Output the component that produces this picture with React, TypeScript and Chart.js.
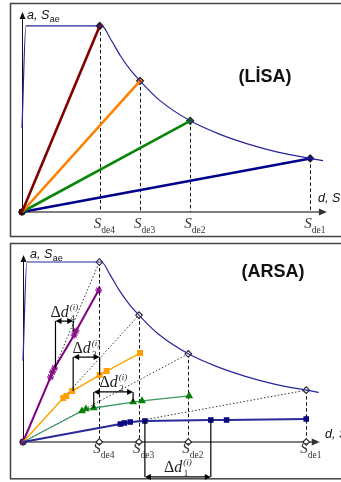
import React, { useEffect, useRef } from 'react';
import { Chart, registerables } from 'chart.js';

Chart.register(...registerables);

// ---------- data ----------
// Demand spectrum (ADRS): spectral displacement vs spectral acceleration
const SPEC_D = [0, 0.4, 8.1, 9, 10, 11, 12.0, 14, 17.1, 20, 23, 26, 29.3, 30.6];
const SPEC_A = [0.452, 1.0, 1.0, 0.93, 0.84, 0.765, 0.705, 0.6, 0.49, 0.42, 0.365, 0.322, 0.288, 0.276];

// Spectral displacement demands Sde4..Sde1 and the matching accelerations
const SDE = [7.9, 12.0, 17.1, 29.3];
const SAE = [1.0, 0.705, 0.49, 0.288];
const SDE_LABELS = ['de4', 'de3', 'de2', 'de1'];

// ARSA capacity curves (mode 4, 3, 2, 1)
const CAP4_D = [0, 2.85, 3.05, 3.26, 5.29, 5.49, 7.83];
const CAP4_A = [0, 0.361, 0.389, 0.411, 0.594, 0.617, 0.844];
const CAP3_D = [0, 4.17, 4.48, 5.09, 7.93, 8.65, 12.11];
const CAP3_A = [0, 0.244, 0.256, 0.283, 0.372, 0.394, 0.494];
const CAP2_D = [0, 6.1, 6.51, 7.32, 11.39, 12.31, 17.19];
const CAP2_A = [0, 0.172, 0.183, 0.189, 0.222, 0.228, 0.256];
const CAP1_D = [0, 10.07, 10.48, 11.09, 12.61, 19.43, 21.06, 29.3];
const CAP1_A = [0, 0.1, 0.106, 0.111, 0.117, 0.122, 0.122, 0.128];

// Δd annotations (mode labels, left/right displacement, leg ends, arrow level)
const DD_LABELS = ['4', '3', '2', '1'];
const DD_X1 = [3.36, 5.19, 7.32, 12.61];
const DD_X2 = [5.19, 7.93, 11.39, 19.43];
const DD_Y1 = [0.411, 0.283, 0.189, 0.117];
const DD_Y2 = [0.61, 0.372, 0.222, 0.122];
const DD_ARROW = [0.672, 0.472, 0.278, -0.194];

// ---------- styles ----------
const SERIF = '"Liberation Serif", "Times New Roman", serif';
const SANS = '"Liberation Sans", Arial, sans-serif';
const SPEC_COLOR = '#26269a';
const LISA_COLORS = ['#800000', '#ff7f00', '#0a850a', '#00008b'];

const pts = (xs: number[], ys: number[]) => xs.map((x, i) => ({ x, y: ys[i] }));

function arrowHead(ctx: CanvasRenderingContext2D, x: number, y: number, dx: number, dy: number, len = 6, half = 3) {
  const nx = -dy, ny = dx;
  ctx.beginPath();
  ctx.moveTo(x, y);
  ctx.lineTo(x - dx * len + nx * half, y - dy * len + ny * half);
  ctx.lineTo(x - dx * len - nx * half, y - dy * len - ny * half);
  ctx.closePath();
  ctx.fill();
}

type PanelOpts = {
  frameBottom: number;
  xAxisEnd: number;
  sOff: number;
  subOff: number;
  aLabel: [number, number];
  dLabel: [number, number];
  title: string;
  titlePos: [number, number];
  arsa: boolean;
};

function makePlugin(o: PanelOpts) {
  return {
    id: 'decor',
    beforeDatasetsDraw(chart: any) {
      const ctx: CanvasRenderingContext2D = chart.ctx;
      const xs = chart.scales.x, ys = chart.scales.y;
      const X = (v: number) => xs.getPixelForValue(v);
      const Y = (v: number) => ys.getPixelForValue(v);
      ctx.save();
      // frame
      ctx.strokeStyle = '#444';
      ctx.lineWidth = 1.5;
      ctx.strokeRect(10.5, 3.5, 400, o.frameBottom - 3.5);
      // dotted rays (ARSA)
      if (o.arsa) {
        ctx.strokeStyle = '#333';
        ctx.lineWidth = 1;
        ctx.setLineDash([1.5, 2]);
        SDE.forEach((d, i) => {
          ctx.beginPath();
          ctx.moveTo(X(0), Y(0));
          ctx.lineTo(X(d), Y(SAE[i]));
          ctx.stroke();
        });
      }
      // dashed verticals
      ctx.strokeStyle = '#111';
      ctx.lineWidth = 1;
      ctx.setLineDash([3.5, 2.5]);
      SDE.forEach((d, i) => {
        ctx.beginPath();
        ctx.moveTo(Math.round(X(d)) + 0.5, Y(SAE[i]));
        ctx.lineTo(Math.round(X(d)) + 0.5, Y(0));
        ctx.stroke();
      });
      ctx.setLineDash([]);
      // x axis
      ctx.strokeStyle = '#555';
      ctx.fillStyle = '#333';
      ctx.lineWidth = 1.5;
      const y0 = Y(0);
      ctx.beginPath();
      ctx.moveTo(X(0), y0);
      ctx.lineTo(X(o.xAxisEnd) - 4, y0);
      ctx.stroke();
      arrowHead(ctx, X(o.xAxisEnd), y0, 1, 0, 8, 3.5);
      // y axis
      ctx.strokeStyle = '#111';
      ctx.fillStyle = '#111';
      ctx.lineWidth = 1;
      const x0 = Math.round(X(0)) + 0.5;
      ctx.beginPath();
      ctx.moveTo(x0, y0);
      ctx.lineTo(x0, chart.chartArea.top + 4);
      ctx.stroke();
      arrowHead(ctx, x0, chart.chartArea.top, 0, -1, 7, 3);
      ctx.restore();
    },
    afterDatasetsDraw(chart: any) {
      const ctx: CanvasRenderingContext2D = chart.ctx;
      const xs = chart.scales.x, ys = chart.scales.y;
      const X = (v: number) => xs.getPixelForValue(v);
      const Y = (v: number) => ys.getPixelForValue(v);
      ctx.save();
      ctx.textBaseline = 'alphabetic';
      const y0 = Y(0);
      // Sde labels
      SDE.forEach((d, i) => {
        const px = X(d) + 1.5;
        ctx.fillStyle = '#333';
        ctx.font = `italic 15px ${SERIF}`;
        ctx.textAlign = 'right';
        ctx.fillText('S', px, y0 + o.sOff);
        ctx.font = `9.5px ${SERIF}`;
        ctx.textAlign = 'left';
        ctx.fillText(SDE_LABELS[i], px, y0 + o.subOff);
      });
      // axis labels
      ctx.fillStyle = '#111';
      ctx.textAlign = 'left';
      ctx.font = `italic 12.5px ${SANS}`;
      ctx.fillText('a, S', o.aLabel[0], o.aLabel[1]);
      let w = ctx.measureText('a, S').width;
      ctx.font = `9px ${SANS}`;
      ctx.fillText('ae', o.aLabel[0] + w + 0.5, o.aLabel[1] + 2.5);
      ctx.font = `italic 12.5px ${SANS}`;
      ctx.fillText('d, S', o.dLabel[0], o.dLabel[1]);
      // title
      ctx.font = `bold 18px ${SANS}`;
      ctx.textAlign = 'center';
      ctx.fillText(o.title, o.titlePos[0], o.titlePos[1]);
      // Δd annotations
      if (o.arsa) {
        ctx.strokeStyle = '#000';
        ctx.fillStyle = '#000';
        ctx.lineWidth = 1.2;
        DD_LABELS.forEach((lab, i) => {
          const x1 = X(DD_X1[i]), x2 = X(DD_X2[i]);
          const ya = Y(DD_ARROW[i]);
          ctx.beginPath();
          ctx.moveTo(x1, Y(DD_Y1[i]));
          ctx.lineTo(x1, ya);
          ctx.moveTo(x2, Y(DD_Y2[i]));
          ctx.lineTo(x2, ya);
          ctx.moveTo(x1 + 5, ya);
          ctx.lineTo(x2 - 5, ya);
          ctx.stroke();
          arrowHead(ctx, x1, ya, -1, 0, 6, 3);
          arrowHead(ctx, x2, ya, 1, 0, 6, 3);
          // label
          ctx.fillStyle = '#222';
          ctx.font = `16px ${SERIF}`;
          const wD = ctx.measureText('Δ').width;
          ctx.font = `italic 16px ${SERIF}`;
          const wd = ctx.measureText('d').width;
          ctx.font = `italic 9px ${SERIF}`;
          const ws = ctx.measureText('(i)').width;
          const total = wD + wd + ws + 1;
          let lx = (x1 + x2) / 2 - total / 2;
          const by = ya - 4.5;
          ctx.textAlign = 'left';
          ctx.font = `16px ${SERIF}`;
          ctx.fillText('Δ', lx, by);
          ctx.font = `italic 16px ${SERIF}`;
          ctx.fillText('d', lx + wD, by);
          ctx.font = `italic 9px ${SERIF}`;
          ctx.fillText('(i)', lx + wD + wd + 1, by - 7);
          ctx.font = `9px ${SERIF}`;
          ctx.fillText(lab, lx + wD + wd + 1.5, by + 4);
          ctx.fillStyle = '#000';
        });
      }
      ctx.restore();
    },
  };
}

function buildTop() {
  const datasets: any[] = [
    {
      data: pts(SPEC_D, SPEC_A), showLine: true, borderColor: SPEC_COLOR, borderWidth: 1.2,
      pointRadius: 0, cubicInterpolationMode: 'monotone', clip: false,
    },
    ...SDE.map((d, i) => ({
      data: [{ x: 0, y: 0 }, { x: d, y: SAE[i] }], showLine: true,
      borderColor: LISA_COLORS[i], borderWidth: 2.6, pointRadius: 0, clip: false,
    })),
    {
      data: pts(SDE, SAE), showLine: false, pointStyle: 'rectRot', pointRadius: 3.5,
      pointBorderColor: '#222', pointBorderWidth: 1.2,
      pointBackgroundColor: LISA_COLORS, clip: false,
    },
    {
      data: [{ x: 0, y: 0 }], showLine: false, pointRadius: 3.2,
      pointBackgroundColor: '#400000', pointBorderColor: '#111', clip: false,
    },
  ];
  const opts: PanelOpts = {
    frameBottom: 236.5, xAxisEnd: 31.0, sOff: 16, subOff: 21,
    aLabel: [27, 19], dLabel: [318, 202], title: '(LİSA)', titlePos: [265, 82], arsa: false,
  };
  return { datasets, opts, xMax: 31.9, yMax: 1.075, padding: { left: 22, right: 0, top: 12, bottom: 28 }, height: 240 };
}

function buildBottom() {
  const capStyle = (d: number[], a: number[], line: string, pt: string, style: string, r: number, w: number) => ({
    data: pts(d, a), showLine: true, borderColor: line, borderWidth: w,
    pointStyle: style, pointRadius: (c: any) => (c.dataIndex === 0 ? 0 : r),
    pointBackgroundColor: pt, pointBorderColor: pt, pointBorderWidth: 1.3, clip: false,
  });
  const datasets: any[] = [
    {
      data: pts(SPEC_D, SPEC_A), showLine: true, borderColor: SPEC_COLOR, borderWidth: 1.2,
      pointRadius: 0, cubicInterpolationMode: 'monotone', clip: false,
    },
    capStyle(CAP1_D, CAP1_A, '#2a2a9a', '#0a0a80', 'rect', 3, 2),
    capStyle(CAP2_D, CAP2_A, '#3a9a60', '#0a800a', 'triangle', 3.3, 1.3),
    capStyle(CAP3_D, CAP3_A, '#ffa500', '#ffa000', 'rect', 3.3, 1.5),
    capStyle(CAP4_D, CAP4_A, '#800080', '#8a108a', 'star', 3.5, 2),
    {
      data: pts(SDE, SAE), showLine: false, pointStyle: 'rectRot', pointRadius: 3.3,
      pointBorderColor: '#222', pointBorderWidth: 1.1, pointBackgroundColor: '#fff', clip: false,
    },
    {
      data: SDE.map((d) => ({ x: d, y: 0 })), showLine: false, pointStyle: 'rectRot', pointRadius: 3.3,
      pointBorderColor: '#222', pointBorderWidth: 1.1, pointBackgroundColor: '#fff', clip: false,
    },
    {
      data: [{ x: 0, y: 0 }], showLine: false, pointRadius: 3.2,
      pointBackgroundColor: '#702070', pointBorderColor: '#222', clip: false,
    },
  ];
  const opts: PanelOpts = {
    frameBottom: 238.8, xAxisEnd: 30.7, sOff: 11, subOff: 16,
    aLabel: [30, 18], dLabel: [325, 198], title: '(ARSA)', titlePos: [273, 37], arsa: true,
  };
  return { datasets, opts, xMax: 32.35, yMax: 1.039, padding: { left: 23, right: 0, top: 15, bottom: 40 }, height: 242 };
}

function Panel({ build, top }: { build: () => any; top: number }) {
  const ref = useRef<HTMLCanvasElement | null>(null);
  const spec = build();
  useEffect(() => {
    if (!ref.current) return;
    const s = build();
    const chart = new Chart(ref.current, {
      type: 'scatter',
      data: { datasets: s.datasets },
      options: {
        responsive: false,
        animation: false,
        devicePixelRatio: 1,
        layout: { padding: s.padding },
        plugins: { legend: { display: false }, tooltip: { enabled: false } },
        scales: {
          x: { type: 'linear', min: 0, max: s.xMax, display: false },
          y: { type: 'linear', min: 0, max: s.yMax, display: false },
        },
      },
      plugins: [makePlugin(s.opts)],
    } as any);
    return () => chart.destroy();
  }, []);
  return (
    <canvas
      ref={ref}
      width={341}
      height={spec.height}
      style={{ position: 'absolute', left: 0, top, width: 341, height: spec.height }}
    />
  );
}

export default function App() {
  return (
    <div style={{ position: 'absolute', left: 0, top: 0, width: 341, height: 482, background: '#fff', overflow: 'hidden' }}>
      <Panel build={buildTop} top={0} />
      <Panel build={buildBottom} top={240} />
    </div>
  );
}
